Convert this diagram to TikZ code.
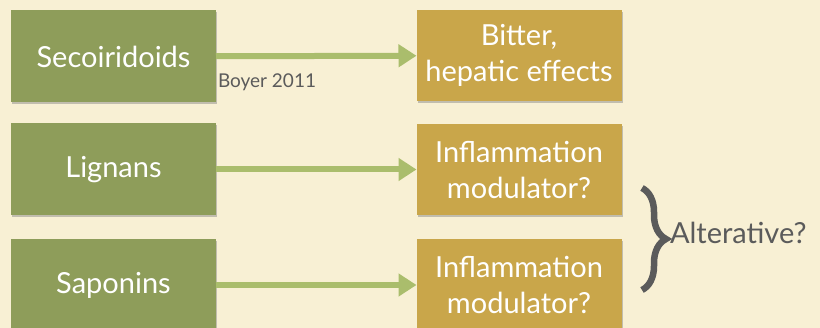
\documentclass[tikz,border=0pt]{standalone}
\usepackage{fontspec}
\setmainfont{Lato}
\usetikzlibrary{arrows.meta,shadows,decorations.pathreplacing}
\definecolor{paper}{HTML}{F8F0D4}
\definecolor{leaf}{HTML}{8E9D5A}
\definecolor{stem}{HTML}{AABD6C}
\definecolor{honey}{HTML}{C9A64A}
\definecolor{ink}{HTML}{5B5B5B}

\begin{document}
\begin{tikzpicture}[x=1pt, y=-1pt, every node/.style={outer sep=0pt, inner sep=0pt},
    source/.style={fill=leaf, minimum width=205pt, minimum height=92pt, text=white, align=center,
        font=\fontsize{29}{36}\selectfont, drop shadow={opacity=0.45, shadow xshift=1pt, shadow yshift=-2pt}},
    effect/.style={source, fill=honey, minimum height=91pt},
    arrow/.style={draw=stem, line width=6pt, -{Triangle[length=18pt, width=22pt]}}]
    \fill[paper] (0,0) rectangle (820,328);
    \useasboundingbox (0,0) rectangle (820,328);

    \node[source](secoiridoids) at (113.5, 56.5) {Secoiridoids};
    \node[effect](bitter) at (519, 55.5) {Bitter,\\hepatic effects};

    \node[source](lignans) at (113.5, 169.5) {Lignans};
    \node[effect](lignans_effect) at (519, 169.5) {Inflammation\\modulator?};

    \node[source](saponins) at (113.5, 285) {Saponins};
    \node[effect](saponins_effect) at (519, 285) {Inflammation\\modulator?};

    \node[text=ink, font=\fontsize{19}{19}\selectfont, anchor=west](boyer) at (218, 82) {Boyer 2011};
    \node[text=ink, font=\fontsize{29}{29}\selectfont, anchor=west](alterative) at (670, 233) {Alterative?};

    \draw[arrow] (secoiridoids) -- (bitter);
    \draw[arrow] (lignans) -- (lignans_effect);
    \draw[arrow] (saponins) -- (saponins_effect);

    \coordinate (brace_top) at (642, 188);
    \coordinate (brace_bottom) at (642, 290);
    \draw[ink, line width=6.5pt, decorate, decoration={brace, amplitude=24pt}] (brace_top) -- (brace_bottom);
\end{tikzpicture}
\end{document}
